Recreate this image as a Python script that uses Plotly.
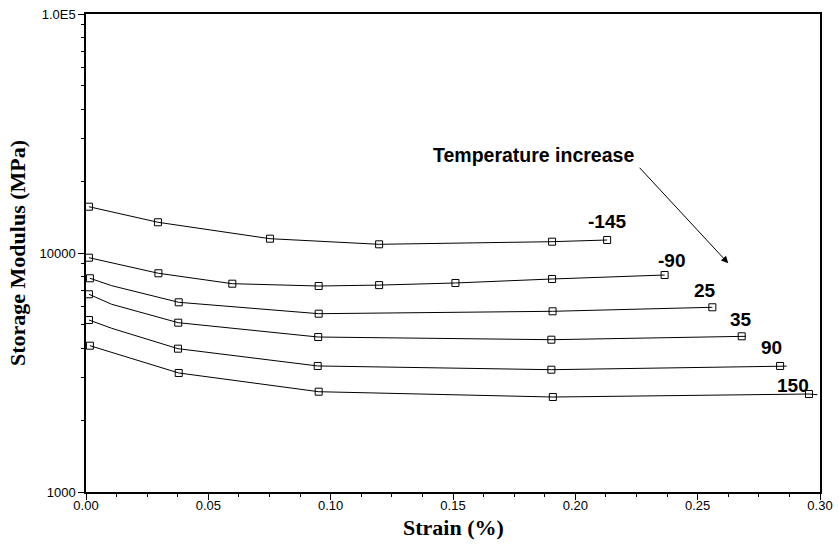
import math
import plotly.graph_objects as go

# ---- data ----
temps = ["-145", "-90", "25", "35", "90", "150"]

strain_m145 = [0.0012, 0.0294, 0.0752, 0.1198, 0.1905, 0.2130]
mod_m145 = [15620, 13445, 11477, 10874, 11151, 11334]

strain_m90 = [0.0012, 0.0296, 0.0598, 0.0951, 0.1198, 0.1510, 0.1905, 0.2365]
mod_m90 = [9557, 8226, 7440, 7276, 7340, 7491, 7785, 8088]

strain_25 = [0.0016, 0.0379, 0.0951, 0.1907, 0.2560]
mod_25 = [7839, 6219, 5572, 5702, 5928]

strain_35 = [0.0012, 0.0377, 0.0949, 0.1902, 0.2680]
mod_35 = [6719, 5110, 4451, 4338, 4482]

strain_90 = [0.0012, 0.0376, 0.0947, 0.1902, 0.2837]
mod_90 = [5244, 3978, 3368, 3249, 3368]

strain_150 = [0.0016, 0.0379, 0.0951, 0.1908, 0.2955]
mod_150 = [4094, 3148, 2628, 2497, 2570]

# unmarked vertices of the connecting lines
extra_strain_25 = [0.0105]
extra_mod_25 = [7298]
extra_strain_35 = [0.0105, 0.2697]
extra_mod_35 = [6101, 4482]
extra_strain_90 = [0.0105, 0.2864]
extra_mod_90 = [4841, 3362]
extra_strain_150 = [0.2989]
extra_mod_150 = [2553]

series = [
    (strain_m145, mod_m145, [], []),
    (strain_m90, mod_m90, [], []),
    (strain_25, mod_25, extra_strain_25, extra_mod_25),
    (strain_35, mod_35, extra_strain_35, extra_mod_35),
    (strain_90, mod_90, extra_strain_90, extra_mod_90),
    (strain_150, mod_150, extra_strain_150, extra_mod_150),
]

# label anchor positions (strain, modulus)
label_pos = [(0.2128, 13520), (0.2394, 9287), (0.2530, 7001), (0.2676, 5245), (0.2803, 4016), (0.2891, 2785)]

x_ticks = [0.0, 0.05, 0.10, 0.15, 0.20, 0.25, 0.30]
x_ticktext = ["0.00", "0.05", "0.10", "0.15", "0.20", "0.25", "0.30"]
y_ticks = [1000, 10000, 100000]
y_ticktext = ["1000", "10000", "1.0E5"]

fig = go.Figure()
for sx, sy, ex, ey in series:
    pts = sorted(list(zip(sx, sy)) + list(zip(ex, ey)))
    fig.add_trace(go.Scatter(x=[p[0] for p in pts], y=[p[1] for p in pts], mode="lines",
                             line=dict(color="black", width=1), hoverinfo="skip"))
    fig.add_trace(go.Scatter(x=sx, y=sy, mode="markers",
                             marker=dict(symbol="square-open", size=7, color="black",
                                         line=dict(width=1, color="black"))))

ann = []
for t, (lx, ly) in zip(temps, label_pos):
    ann.append(dict(x=lx, y=math.log10(ly), xref="x", yref="y", text="<b>" + t + "</b>",
                    showarrow=False, font=dict(family="Liberation Sans", size=19, color="black")))
ann.append(dict(x=0.1831, y=4.410, xref="x", yref="y", text="<b>Temperature increase</b>",
                showarrow=False, font=dict(family="Liberation Sans", size=19.5, color="black")))
ann.append(dict(x=0.2625, y=math.log10(9056), xref="x", yref="y", text="", showarrow=True,
                ax=-90, ay=-97, arrowhead=2, arrowsize=1.4, arrowwidth=1, arrowcolor="black"))
# x-axis title
ann.append(dict(x=0.5, y=-0.0735, xref="paper", yref="paper", yanchor="middle", xanchor="center",
                text="<b>Strain (%)</b>", showarrow=False,
                font=dict(family="Liberation Serif", size=22, color="black")))

minor_y = [d * 10 ** e for e in (3, 4) for d in range(2, 10)]

fig.update_layout(
    width=839, height=544,
    margin=dict(l=86, r=19, t=14, b=52),
    paper_bgcolor="white", plot_bgcolor="white",
    showlegend=False,
    annotations=ann,
    font=dict(family="Liberation Sans", size=13, color="black"),
    xaxis=dict(
        range=[0, 0.3], tickvals=x_ticks, ticktext=x_ticktext, automargin=False,
        ticks="outside", ticklen=6, tickwidth=1, tickcolor="black", ticklabelstandoff=-5,
        minor=dict(ticks="outside", ticklen=3, tickwidth=1, tickcolor="black", dtick=0.0125, tick0=0),
        showline=True, linecolor="black", linewidth=1.5, mirror=True,
        showgrid=False, zeroline=False,
        tickfont=dict(family="Liberation Sans", size=13, color="black"),
    ),
    yaxis=dict(
        type="log", range=[3, 5], tickvals=y_ticks, ticktext=y_ticktext, automargin=False,
        ticks="outside", ticklen=6, tickwidth=1, tickcolor="black",
        minor=dict(ticks="outside", ticklen=3, tickwidth=1, tickcolor="black", tickvals=minor_y),
        showline=True, linecolor="black", linewidth=1.5, mirror=True,
        showgrid=False, zeroline=False,
        tickfont=dict(family="Liberation Sans", size=13, color="black"),
        title=dict(text="<b>Storage Modulus (MPa)</b>", standoff=8,
                   font=dict(family="Liberation Serif", size=22, color="black")),
    ),
)

fig.write_html("out.html")
